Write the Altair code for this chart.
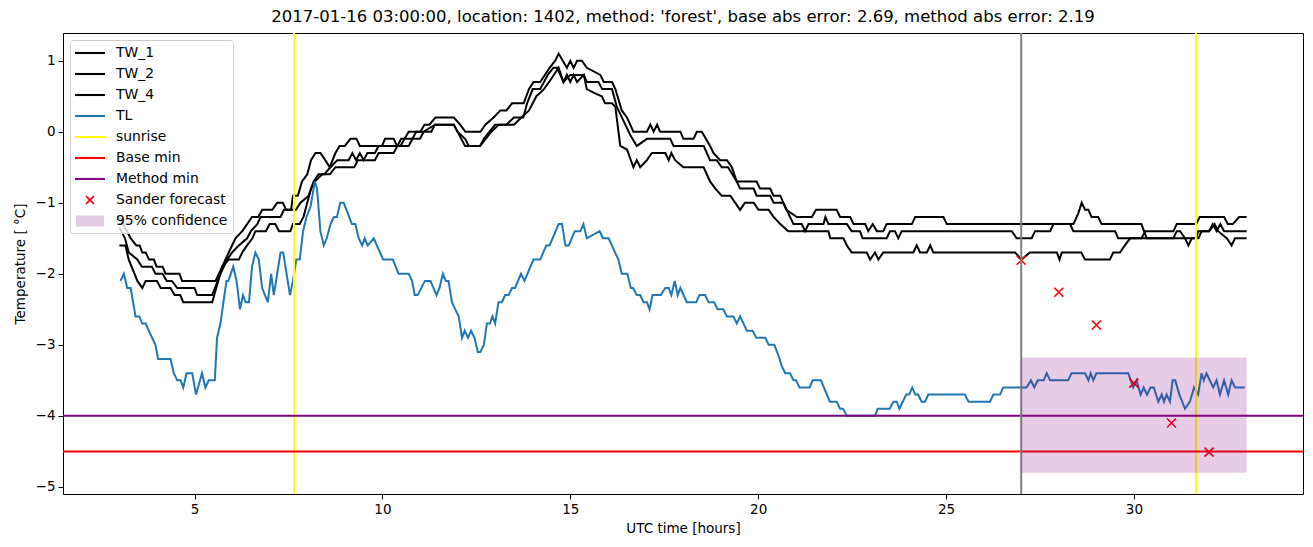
import altair as alt
import pandas as pd

TITLE = "2017-01-16 03:00:00, location: 1402, method: 'forest', base abs error: 2.69, method abs error: 2.19"

# ---- TW lines (hours, temperature) ----
tw1_h = [3.0, 3.1, 3.2, 3.3, 3.45, 3.54, 3.61, 3.70, 3.79, 3.92, 3.99, 4.15, 4.23, 4.6, 4.67, 5.56, 5.91, 6.09, 6.27, 6.40,
         6.53, 6.70, 6.80, 7.07, 7.20, 7.35, 7.44, 7.57, 7.62, 7.75, 7.86, 8.0, 8.1, 8.22, 8.35, 8.48, 8.60, 8.75, 8.86, 9.0,
         9.15, 9.31, 9.40, 9.99, 10.07, 10.3, 10.39, 10.48, 10.70, 11.01, 11.12, 11.25, 11.41, 11.90, 12.07, 12.21, 12.61,
         12.74, 12.96, 13.14, 13.30, 13.45, 13.76, 13.9, 14.02, 14.2, 14.45, 14.6, 14.69, 14.91, 15.0, 15.09, 15.18, 15.31,
         15.44, 15.8, 15.89, 16.11, 16.2, 16.37, 16.51, 16.68, 17.04, 17.13, 17.22, 17.31, 17.39, 17.93, 18.01, 18.28, 18.37,
         18.5, 18.72, 18.81, 18.99, 19.17, 19.3, 19.43, 19.96, 20.05, 20.32, 20.41, 20.59, 20.75, 21.03, 21.43, 21.54, 22.09,
         22.18, 22.45, 22.54, 22.85, 22.93, 23.05, 23.16, 23.33, 23.42, 24.09, 24.18, 24.93, 25.02, 28.39, 28.52, 28.61, 28.70,
         28.79, 28.87, 29.05, 29.14, 30.2, 30.34, 31.66, 31.71, 32.0, 32.15, 32.24, 32.47, 32.6, 32.69, 33.0]
tw1_t = [-1.2, -1.3, -1.4, -1.5, -1.6, -1.6, -1.7, -1.7, -1.8, -1.8, -1.9, -1.9, -2.0, -2.0, -2.1, -2.1, -1.7, -1.5, -1.4, -1.3,
         -1.2, -1.2, -1.1, -1.1, -1.0, -1.0, -1.1, -1.1, -0.9, -0.9, -0.7, -0.6, -0.4, -0.3, -0.3, -0.4, -0.5, -0.3, -0.2, -0.2,
         -0.1, -0.1, -0.2, -0.2, -0.1, -0.1, -0.2, -0.2, 0.0, 0.0, 0.1, 0.1, 0.2, 0.2, 0.1, 0.0, 0.0,
         0.1, 0.2, 0.3, 0.3, 0.4, 0.4, 0.6, 0.7, 0.7, 0.9, 1.0, 1.1, 0.9, 1.0, 0.9, 1.0, 1.0,
         0.9, 0.8, 0.7, 0.7, 0.6, 0.3, 0.2, 0.0, 0.0, 0.1, 0.0, 0.1, 0.0, 0.0, -0.1, -0.1, 0.0,
         0.0, -0.2, -0.3, -0.4, -0.4, -0.5, -0.7, -0.7, -0.8, -0.8, -0.9, -0.9, -1.1, -1.2, -1.2, -1.1, -1.1,
         -1.2, -1.2, -1.3, -1.3, -1.4, -1.3, -1.4, -1.4, -1.3, -1.3, -1.2, -1.2, -1.3, -1.3, -1.15, -1.0, -1.1,
         -1.1, -1.2, -1.2, -1.3, -1.3, -1.5, -1.5, -1.4, -1.4, -1.3, -1.4, -1.5, -1.6, -1.5, -1.5]

tw2_h = [3.0, 3.15, 3.25, 3.48, 3.60, 3.87, 3.96, 4.15, 4.26, 4.40, 4.54, 5.0, 5.07, 5.47, 5.69, 5.87, 6.0, 6.18, 6.40, 6.5,
         6.67, 6.76, 7.29, 7.38, 7.70, 7.82, 8.04, 8.17, 8.3, 8.45, 8.62, 8.8, 9.1, 9.2, 9.3, 9.4, 9.5, 9.6, 9.8, 9.9,
         10.4, 10.5, 10.8, 10.9, 11.3, 11.4, 11.9, 12.0, 12.2, 12.3, 12.6, 12.7, 12.85, 13.0, 13.3, 13.5, 13.75, 13.85, 14.0,
         14.2, 14.4, 14.55, 14.65, 14.82, 15.0, 15.36, 15.44, 15.75, 15.85, 16.11, 16.24, 16.42, 16.6, 16.77, 17.04, 17.66,
         17.75, 18.55, 18.72, 18.9, 19.03, 19.2, 19.43, 19.52, 19.88, 19.96, 20.32, 20.41, 20.67, 20.85, 20.94, 21.16, 21.25,
         21.34, 21.74, 21.79, 21.87, 22.36, 22.49, 22.71, 22.78, 23.42, 23.51, 23.64, 23.73, 23.82, 26.75, 26.88, 27.28,
         27.37, 27.77, 27.86, 28.3, 28.39, 29.5, 29.58, 30.2, 30.3, 31.05, 31.14, 31.66, 31.75, 32.4, 32.5, 32.63, 32.8, 33.0]
tw2_t = [-1.35, -1.5, -1.7, -1.8, -1.9, -1.9, -2.0, -2.0, -2.1, -2.1, -2.2, -2.2, -2.3, -2.3, -2.0, -1.8, -1.7, -1.6, -1.5, -1.4,
         -1.3, -1.2, -1.2, -1.1, -1.1, -1.0, -0.9, -0.7, -0.6, -0.6, -0.5, -0.4, -0.4, -0.3, -0.4, -0.3, -0.4, -0.3, -0.3, -0.2,
         -0.2, -0.1, -0.1, 0.0, 0.0, 0.1, 0.1, 0.0, -0.1, -0.2, -0.2, -0.1, 0.0, 0.1, 0.1, 0.2, 0.2, 0.4, 0.6,
         0.6, 0.8, 0.9, 0.9, 0.7, 0.8, 0.8, 0.7, 0.7, 0.6, 0.6, 0.35, 0.15, -0.05, -0.2, -0.1, -0.1,
         -0.2, -0.2, -0.4, -0.4, -0.5, -0.5, -0.7, -0.8, -0.8, -0.9, -0.9, -1.0, -1.0, -1.2, -1.3, -1.3, -1.4,
         -1.3, -1.3, -1.2, -1.3, -1.3, -1.4, -1.4, -1.5, -1.5, -1.4, -1.4, -1.5, -1.4, -1.4, -1.5, -1.5,
         -1.4, -1.4, -1.3, -1.3, -1.4, -1.4, -1.5, -1.5, -1.4, -1.4, -1.3, -1.3, -1.2, -1.2, -1.3, -1.3, -1.2, -1.2]

tw4_h = [3.0, 3.16, 3.25, 3.48, 3.61, 3.70, 4.0, 4.1, 4.36, 4.47, 4.62, 4.70, 5.47, 5.74, 5.91, 6.18, 6.27, 6.4, 6.54, 6.62,
         6.9, 7.0, 7.15, 7.25, 7.55, 7.62, 7.8, 7.9, 8.0, 8.1, 8.2, 8.4, 8.6, 8.75, 9.25, 9.35, 9.8, 9.9, 10.3, 10.4,
         10.7, 10.8, 11.0, 11.1, 11.4, 11.9, 12.0, 12.2, 12.6, 12.75, 12.9, 13.1, 13.5, 13.7, 13.9, 14.1, 14.3, 14.5, 14.69,
         14.82, 14.91, 15.0, 15.09, 15.18, 15.36, 15.44, 15.62, 15.84, 15.93, 16.11, 16.2, 16.33, 16.51, 16.68, 16.77, 16.86,
         17.04, 17.17, 17.53, 17.62, 17.69, 17.79, 18.01, 18.55, 18.72, 18.86, 19.03, 19.26, 19.52, 19.65, 19.88, 20.01,
         20.28, 20.41, 20.59, 20.8, 21.4, 21.87, 21.92, 22.27, 22.36, 22.49, 22.89, 22.98, 23.11, 23.2, 23.33, 24.13, 24.22,
         24.31, 24.49, 24.58, 24.66, 26.84, 27.01, 27.23, 27.95, 28.02, 28.08, 28.6, 28.7, 29.36, 29.45, 29.63, 29.76, 29.9,
         31.05, 31.14, 31.23, 31.36, 31.45, 31.54, 31.72, 31.8, 32.0, 32.1, 32.2, 32.3, 32.4, 33.0]
tw4_t = [-1.6, -1.6, -1.8, -2.1, -2.2, -2.1, -2.1, -2.2, -2.2, -2.3, -2.3, -2.4, -2.4, -1.9, -1.8, -1.8, -1.7, -1.6, -1.5, -1.4,
         -1.4, -1.3, -1.3, -1.4, -1.4, -1.3, -1.3, -1.2, -1.0, -0.8, -0.7, -0.6, -0.6, -0.5, -0.5, -0.4, -0.4, -0.3, -0.3, -0.2,
         -0.2, -0.1, -0.1, 0.0, 0.1, 0.1, 0.0, -0.2, -0.2, -0.1, 0.0, 0.1, 0.1, 0.2, 0.3, 0.5, 0.6, 0.75, 0.9,
         0.7, 0.8, 0.7, 0.8, 0.7, 0.8, 0.6, 0.55, 0.5, 0.4, 0.4, 0.35, -0.2, -0.25, -0.5, -0.4, -0.5,
         -0.4, -0.3, -0.3, -0.4, -0.3, -0.4, -0.5, -0.5, -0.7, -0.8, -0.9, -0.9, -1.1, -1.0, -1.0, -1.1,
         -1.1, -1.2, -1.3, -1.4, -1.4, -1.4, -1.5, -1.5, -1.6, -1.7, -1.7, -1.8, -1.7, -1.8, -1.7, -1.7, -1.6,
         -1.7, -1.7, -1.6, -1.7, -1.7, -1.8, -1.7, -1.7, -1.8, -1.7, -1.7, -1.8, -1.8, -1.7, -1.7, -1.6, -1.5,
         -1.5, -1.4, -1.4, -1.5, -1.6, -1.5, -1.5, -1.4, -1.4, -1.3, -1.4, -1.3, -1.4, -1.4]

# ---- TL line ----
tl_h = [3.03, 3.12, 3.21, 3.30, 3.43, 3.53, 3.61, 3.70, 3.87, 3.96, 4.03, 4.36, 4.45, 4.54, 4.63, 4.70, 4.79, 4.94, 5.04, 5.20,
        5.29, 5.38, 5.54, 5.60, 5.69, 5.85, 5.90, 6.03, 6.12, 6.21, 6.29, 6.36, 6.45, 6.53, 6.62, 6.71, 6.80, 6.95, 7.04, 7.11,
        7.29, 7.36, 7.54, 7.62, 7.71, 7.80, 7.89, 7.98, 8.09, 8.20, 8.26, 8.35, 8.44, 8.52, 8.62, 8.71, 8.79, 8.88, 8.97, 9.19,
        9.28, 9.37, 9.46, 9.53, 9.61, 9.77, 10.02, 10.28, 10.43, 10.70, 10.79, 10.86, 10.94, 11.13, 11.28, 11.44, 11.52, 11.61,
        11.69, 11.76, 11.85, 11.94, 12.03, 12.12, 12.19, 12.28, 12.36, 12.45, 12.54, 12.61, 12.70, 12.78, 12.86, 12.93, 13.00,
        13.09, 13.18, 13.27, 13.36, 13.45, 13.53, 13.69, 13.78, 14.02, 14.20, 14.36, 14.45, 14.69, 14.78, 14.87, 14.96, 15.12,
        15.27, 15.35, 15.44, 15.78, 15.87, 16.02, 16.28, 16.37, 16.52, 16.61, 16.67, 16.77, 16.86, 16.95, 17.04, 17.11, 17.19,
        17.41, 17.53, 17.62, 17.69, 17.78, 17.86, 17.93, 18.10, 18.35, 18.44, 18.59, 18.68, 18.83, 18.92, 19.07, 19.17, 19.34,
        19.43, 19.52, 19.70, 19.85, 19.95, 20.19, 20.28, 20.43, 20.54, 20.63, 20.72, 20.85, 20.94, 21.01, 21.10, 21.37, 21.45,
        21.67, 21.91, 22.09, 22.18, 22.26, 22.36, 23.11, 23.18, 23.50, 23.60, 23.69, 23.76, 23.94, 24.02, 24.10, 24.18, 24.26,
        24.35, 24.44, 24.53, 25.50, 25.60, 26.17, 26.26, 26.44, 26.52, 27.14, 27.26, 27.35, 27.44, 27.60, 27.68, 27.77, 28.25,
        28.34, 28.70, 28.79, 28.85, 28.92, 29.00, 29.85, 29.98, 30.07, 30.18, 30.26, 30.35, 30.44, 30.53, 30.65, 30.74, 30.80,
        30.87, 30.96, 31.03, 31.10, 31.21, 31.36, 31.49, 31.60, 31.71, 31.80, 31.86, 31.93, 32.11, 32.20, 32.29, 32.40, 32.51,
        32.60, 32.69, 32.95]
tl_t = [-2.1, -2.0, -2.2, -2.2, -2.6, -2.6, -2.7, -2.7, -2.9, -3.0, -3.2, -3.2, -3.4, -3.5, -3.5, -3.6, -3.4, -3.4, -3.7, -3.4,
        -3.6, -3.5, -3.5, -2.9, -2.7, -2.1, -2.1, -1.9, -2.1, -2.5, -2.3, -2.4, -2.4, -1.9, -1.7, -1.8, -2.2, -2.4, -2.0, -2.3,
        -1.7, -1.7, -2.3, -2.1, -1.8, -1.8, -1.4, -1.2, -1.05, -0.7, -0.8, -1.4, -1.6, -1.5, -1.3, -1.2, -1.2, -1.0, -1.0, -1.3,
        -1.3, -1.5, -1.6, -1.5, -1.6, -1.5, -1.8, -1.8, -2.0, -2.0, -2.1, -2.3, -2.3, -2.1, -2.1, -2.3, -2.2, -2.0,
        -2.1, -2.1, -2.4, -2.5, -2.6, -2.9, -2.8, -2.9, -2.8, -2.9, -3.1, -3.1, -3.0, -2.7, -2.7, -2.6, -2.7,
        -2.4, -2.4, -2.3, -2.3, -2.2, -2.2, -2.0, -2.1, -1.8, -1.8, -1.6, -1.6, -1.3, -1.3, -1.6, -1.6, -1.4,
        -1.4, -1.3, -1.5, -1.4, -1.5, -1.5, -1.8, -2.0, -2.0, -2.2, -2.2, -2.3, -2.3, -2.4, -2.4, -2.5, -2.3,
        -2.3, -2.2, -2.2, -2.3, -2.1, -2.3, -2.2, -2.4, -2.4, -2.3, -2.3, -2.4, -2.4, -2.5, -2.5, -2.6, -2.6,
        -2.7, -2.6, -2.8, -2.8, -2.9, -2.9, -3.0, -3.0, -3.15, -3.3, -3.4, -3.4, -3.5, -3.5, -3.6, -3.6, -3.5,
        -3.5, -3.8, -3.8, -3.9, -3.9, -4.0, -4.0, -3.9, -3.9, -3.8, -3.8, -3.9, -3.7, -3.7, -3.6, -3.7, -3.7,
        -3.8, -3.8, -3.7, -3.7, -3.8, -3.8, -3.7, -3.7, -3.6, -3.6, -3.5, -3.6, -3.5, -3.5, -3.4, -3.5, -3.5,
        -3.4, -3.4, -3.5, -3.4, -3.5, -3.4, -3.4, -3.6, -3.5, -3.7, -3.6, -3.7, -3.6, -3.6, -3.8, -3.7, -3.8,
        -3.7, -3.8, -3.5, -3.5, -3.7, -3.9, -3.8, -3.6, -3.7, -3.4, -3.5, -3.4, -3.6, -3.5, -3.7, -3.5, -3.7,
        -3.5, -3.6, -3.6]

# ---- markers / references ----
sunrise_h = [7.65, 31.65]
now_h = [27.0]
base_min = [-4.5]
method_min = [-4.0]
forecast_h = [27, 28, 29, 30, 31, 32]
forecast_t = [-1.81, -2.26, -2.72, -3.54, -4.10, -4.51]
conf_h = [27.0]
conf_h2 = [33.0]
conf_lo = [-4.80]
conf_hi = [-3.18]

legend_labels = ["TW_1", "TW_2", "TW_4", "TL", "sunrise", "Base min", "Method min", "Sander forecast", "95% confidence"]
legend_colors = ["black", "black", "black", "#1f77b4", "yellow", "red", "purple", "red", "#e2cce2"]

# legend glyphs (symbol size 256 -> 8 px per path unit)
LINE = "M-1,-0.13L2.75,-0.13L2.75,0.13L-1,0.13Z"
XMARK = ("M0.315,-0.41L0.465,-0.56L1.435,0.41L1.285,0.56Z "
         "M1.285,-0.56L1.435,-0.41L0.465,0.56L0.315,0.41Z")
PATCH = "M-0.875,-0.69L2.625,-0.69L2.625,0.69L-0.875,0.69Z"
legend_shapes = [LINE, LINE, LINE, LINE, LINE, LINE, LINE, XMARK, PATCH]

FONT = "DejaVu Sans"

tw_df = pd.concat([
    pd.DataFrame({"h": tw1_h, "t": tw1_t, "s": "TW_1"}),
    pd.DataFrame({"h": tw2_h, "t": tw2_t, "s": "TW_2"}),
    pd.DataFrame({"h": tw4_h, "t": tw4_t, "s": "TW_4"}),
])
tl_df = pd.DataFrame({"h": tl_h, "t": tl_t})

xs = alt.Scale(domain=[1.5, 34.5], nice=False, zero=False)
ys = alt.Scale(domain=[-5.1, 1.39], nice=False, zero=False)
X = alt.X("h:Q", scale=xs, axis=alt.Axis(title="UTC time [hours]", values=[5, 10, 15, 20, 25, 30]))
Y = alt.Y("t:Q", scale=ys, axis=alt.Axis(title="Temperature [ °C]", values=[-5, -4, -3, -2, -1, 0, 1]))

tw = alt.Chart(tw_df).mark_line(color="black", strokeWidth=2).encode(x=X, y=Y, detail="s:N")
tl = alt.Chart(tl_df).mark_line(color="#1f77b4", strokeWidth=2).encode(x=X, y=Y)
sun = alt.Chart(pd.DataFrame({"h": sunrise_h})).mark_rule(color="yellow", strokeWidth=2).encode(x=X)
nowr = alt.Chart(pd.DataFrame({"h": now_h})).mark_rule(color="gray", strokeWidth=2).encode(x=X)
bmin = alt.Chart(pd.DataFrame({"t": base_min})).mark_rule(color="red", strokeWidth=2).encode(y=Y)
mmin = alt.Chart(pd.DataFrame({"t": method_min})).mark_rule(color="purple", strokeWidth=2).encode(y=Y)
fc = alt.Chart(pd.DataFrame({"h": forecast_h, "t": forecast_t})).mark_point(
    shape="M-1,-1L1,1M-1,1L1,-1", filled=False, color="red", strokeWidth=1.6, size=81, opacity=1
).encode(x=X, y=Y)
conf = alt.Chart(pd.DataFrame({"h": conf_h, "h2": conf_h2, "t": conf_hi, "t2": conf_lo})).mark_rect(
    color="purple", opacity=0.2
).encode(x=X, x2="h2:Q", y=Y, y2="t2:Q")

leg = alt.Chart(pd.DataFrame({"s": legend_labels, "h": [3.0] * 9, "t": [0.0] * 9})).transform_filter(
    "false"
).mark_point(filled=True, opacity=1, strokeWidth=0).encode(
    x=X, y=Y,
    color=alt.Color("s:N", scale=alt.Scale(domain=legend_labels, range=legend_colors),
                    legend=alt.Legend(title=None)),
    shape=alt.Shape("s:N", scale=alt.Scale(domain=legend_labels, range=legend_shapes),
                    legend=alt.Legend(title=None)),
)

chart = alt.layer(tw, tl, sun, bmin, mmin, fc, nowr, conf, leg).properties(
    width=1240, height=461,
    title=alt.TitleParams(TITLE, font=FONT, fontSize=16.5, fontWeight="normal", color="black", offset=7),
    autosize=alt.AutoSizeParams(type="none"),
    padding={"left": 63, "top": 33, "right": 10, "bottom": 53},
).configure_view(stroke="black", strokeWidth=1).configure_axis(
    grid=False, domain=False, tickColor="black", tickSize=5, tickWidth=1,
    labelFont=FONT, labelFontSize=13.5, labelColor="black", labelPadding=3,
    titleFont=FONT, titleFontSize=13.5, titleFontWeight="normal", titleColor="black",
).configure_axisX(titlePadding=6).configure_axisY(titlePadding=8).configure_legend(
    orient="top-left", offset=7, padding=5, strokeColor="#cccccc", fillColor="rgba(255,255,255,0.8)",
    cornerRadius=3, labelFont=FONT, labelFontSize=13.9, labelColor="black", symbolSize=256,
    symbolStrokeWidth=0, labelOffset=25, rowPadding=6,
)

chart.save("out.html", embed_options={"renderer": "svg", "actions": False})
